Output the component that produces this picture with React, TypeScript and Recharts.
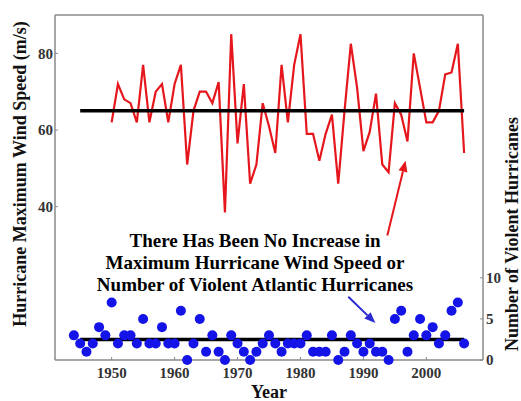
import React from 'react';
import { ComposedChart, Line, Scatter, XAxis, YAxis, ReferenceLine, Label } from 'recharts';

// years on the x axis (blue dots start in 1944, red line in 1950)
const YEARS = [
  1944, 1945, 1946, 1947, 1948, 1949, 1950, 1951, 1952, 1953, 1954, 1955, 1956, 1957, 1958, 1959,
  1960, 1961, 1962, 1963, 1964, 1965, 1966, 1967, 1968, 1969, 1970, 1971, 1972, 1973, 1974, 1975,
  1976, 1977, 1978, 1979, 1980, 1981, 1982, 1983, 1984, 1985, 1986, 1987, 1988, 1989, 1990, 1991,
  1992, 1993, 1994, 1995, 1996, 1997, 1998, 1999, 2000, 2001, 2002, 2003, 2004, 2005, 2006,
];
const WIND_START = 1950;
// max wind speed (m/s), 1950-2006
const MAX_WIND = [
  62, 72, 68, 67, 62, 77, 62, 70, 72, 62,
  72, 77, 51, 65, 70, 70, 67, 72.5, 38.5, 85,
  56.5, 72, 46, 51, 67, 61, 54, 77, 62, 77,
  85, 59, 59, 52, 59, 64, 46, 65, 82.5, 71,
  54.5, 59.5, 69.5, 51, 49, 67, 64, 57, 80, 71,
  62, 62, 65, 74.5, 75, 82.5, 54,
];
// number of violent hurricanes, 1944-2006
const VIOLENT = [
  3, 2, 1, 2, 4, 3,
  7, 2, 3, 3, 2, 5, 2, 2, 4, 2,
  2, 6, 0, 2, 5, 1, 3, 1, 0, 3,
  2, 1, 0, 1, 2, 3, 2, 1, 2, 2,
  2, 3, 1, 1, 1, 3, 0, 1, 3, 2,
  1, 2, 1, 1, 0, 5, 6, 1, 3, 5,
  3, 4, 2, 3, 6, 7, 2,
];
const WIND_MEAN = 65;
const COUNT_MEAN = 2.5;
const MEAN_SPAN = [1945, 2006];

const X_TICKS = [1950, 1960, 1970, 1980, 1990, 2000];
const WIND_TICKS = [40, 60, 80];
const COUNT_TICKS = [0, 5, 10];

const NOTE = [
  'There Has Been No Increase in',
  'Maximum Hurricane Wind Speed or',
  'Number of Violent Atlantic Hurricanes',
];

const data = YEARS.map((year, i) => ({
  year,
  wind: year >= WIND_START ? MAX_WIND[year - WIND_START] : undefined,
  count: VIOLENT[i],
}));

const FONT = '"Liberation Serif", "Times New Roman", serif';
const AXIS = '#8a8a8a';
const RED = '#e5171c';
const BLUE = '#1414e8';

const tickText = { fontFamily: FONT, fontWeight: 700, fontSize: 15, fill: '#333' };

const BottomTick = ({ x, y, payload }: any) => (
  <g>
    <line x1={x} y1={y - 7} x2={x} y2={y - 10} stroke={AXIS} />
    <text x={x} y={y} dy="0.71em" textAnchor="middle" {...tickText}>{payload.value}</text>
  </g>
);
const LeftTick = ({ x, y, payload }: any) => (
  <g>
    <line x1={x + 2} y1={y} x2={x + 5} y2={y} stroke={AXIS} />
    <text x={x} y={y} dy="0.35em" textAnchor="end" {...tickText}>{payload.value}</text>
  </g>
);
const RightTick = ({ x, y, payload }: any) => (
  <g>
    <line x1={x - 3} y1={y} x2={x - 6} y2={y} stroke={AXIS} />
    <text x={x} y={y} dy="0.35em" textAnchor="start" {...tickText}>{payload.value}</text>
  </g>
);

const titleText = { fontFamily: FONT, fontWeight: 700, fontSize: 18, fill: '#111' };

const LeftTitle = ({ viewBox }: any) => {
  const cx = viewBox.x + 20;
  const cy = 174;
  return (
    <text x={cx} y={cy} textAnchor="middle" dominantBaseline="central" transform={`rotate(-90 ${cx} ${cy})`} {...titleText}>
      Hurricane Maximum Wind Speed (m/s)
    </text>
  );
};
const RightTitle = ({ viewBox }: any) => {
  const cx = viewBox.x + 29;
  const cy = 234;
  return (
    <text x={cx} y={cy} textAnchor="middle" dominantBaseline="central" transform={`rotate(-90 ${cx} ${cy})`} {...titleText}>
      Number of Violent Hurricanes
    </text>
  );
};
const XTitle = ({ viewBox }: any) => (
  <text x={viewBox.x + viewBox.width / 2} y={392} textAnchor="middle" dominantBaseline="central" {...titleText}>
    Year
  </text>
);

// line with a filled arrow head at its end point
const arrow = (color: string) => (props: any) => {
  const { x1, y1, x2, y2 } = props;
  const a = Math.atan2(y2 - y1, x2 - x1);
  const len = 11;
  const w = 4.5;
  const bx = x2 - len * Math.cos(a);
  const by = y2 - len * Math.sin(a);
  const px = -Math.sin(a) * w;
  const py = Math.cos(a) * w;
  return (
    <g>
      <line x1={x1} y1={y1} x2={bx} y2={by} stroke={color} strokeWidth={2} />
      <polygon points={`${x2},${y2} ${bx + px},${by + py} ${bx - px},${by - py}`} fill={color} />
    </g>
  );
};

export default function App() {
  return (
    <div style={{ position: 'absolute', left: 0, top: 0, width: 521, height: 401, background: '#fff' }}>
      <ComposedChart width={521} height={401} data={data} margin={{ top: 15, right: 0, bottom: 0, left: 0 }}>
        <XAxis
          dataKey="year"
          type="number"
          domain={[1941, 2009]}
          ticks={X_TICKS}
          height={41}
          tickSize={0}
          tickMargin={7}
          tickLine={false}
          tick={<BottomTick />}
          axisLine={{ stroke: AXIS, strokeWidth: 1.5 }}
        >
          <Label content={<XTitle />} />
        </XAxis>
        <YAxis
          yAxisId="left"
          domain={[0, 90]}
          ticks={WIND_TICKS}
          width={55}
          tickSize={0}
          tickMargin={2}
          tickLine={false}
          tick={<LeftTick />}
          axisLine={{ stroke: AXIS, strokeWidth: 1.5 }}
        >
          <Label content={<LeftTitle />} />
        </YAxis>
        <YAxis
          yAxisId="right"
          orientation="right"
          domain={[0, 42]}
          ticks={COUNT_TICKS}
          width={38}
          tickSize={0}
          tickMargin={3}
          tickLine={false}
          tick={<RightTick />}
          axisLine={{ stroke: AXIS, strokeWidth: 1.5 }}
        >
          <Label content={<RightTitle />} />
        </YAxis>

        {/* top border of the frame */}
        <ReferenceLine yAxisId="left" y={90} stroke={AXIS} strokeWidth={1.5} />

        <Line
          yAxisId="left"
          dataKey="wind"
          stroke={RED}
          strokeWidth={2.2}
          dot={false}
          isAnimationActive={false}
        />
        <Scatter
          yAxisId="right"
          dataKey="count"
          fill={BLUE}
          isAnimationActive={false}
          shape={(p: any) => <circle cx={p.cx} cy={p.cy} r={5} fill={BLUE} />}
        />

        <ReferenceLine
          yAxisId="left"
          segment={[{ x: MEAN_SPAN[0], y: WIND_MEAN }, { x: MEAN_SPAN[1], y: WIND_MEAN }]}
          stroke="#000"
          strokeWidth={3.5}
        />
        <ReferenceLine
          yAxisId="right"
          segment={[{ x: MEAN_SPAN[0], y: COUNT_MEAN }, { x: MEAN_SPAN[1], y: COUNT_MEAN }]}
          stroke="#000"
          strokeWidth={3.5}
        />

        <ReferenceLine
          yAxisId="left"
          segment={[{ x: 1993.8, y: 32.5 }, { x: 1996.7, y: 52 }]}
          shape={arrow(RED)}
        />
        <ReferenceLine
          yAxisId="right"
          segment={[{ x: 1987.6, y: 7.7 }, { x: 1991.9, y: 4.5 }]}
          shape={arrow('#2a2ad0')}
        />
      </ComposedChart>

      <div
        style={{
          position: 'absolute',
          left: 0,
          top: 230,
          width: 510,
          textAlign: 'center',
          fontFamily: FONT,
          fontWeight: 700,
          fontSize: 19,
          lineHeight: '22px',
          color: '#000',
        }}
      >
        {NOTE.map((t) => (
          <div key={t}>{t}</div>
        ))}
      </div>
    </div>
  );
}
